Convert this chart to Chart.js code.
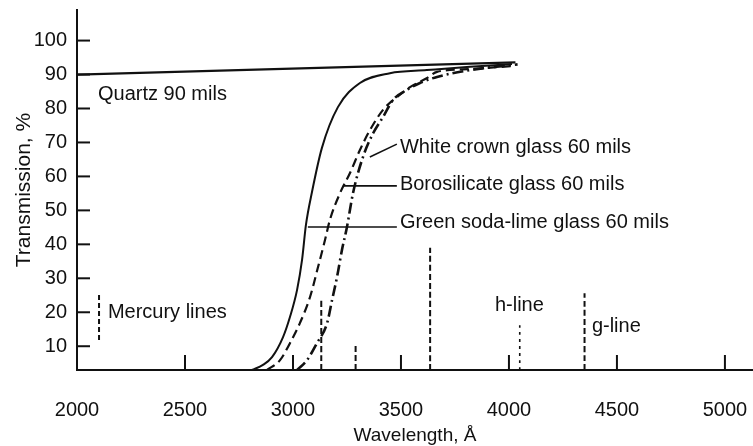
<!DOCTYPE html>
<html>
<head>
<meta charset="utf-8">
<script src="https://cdn.jsdelivr.net/npm/chart.js@4.4.1/dist/chart.umd.min.js"></script>
<style>
  body { margin: 0; background: #fff; }
  canvas { display: block; }
</style>
</head>
<body>
<canvas id="glassChart" width="753" height="446"></canvas>
<script>
// wavelength (angstrom) and transmission (%)
const quartzWl = [2000, 4030];
const quartzT = [90, 93.6];

const greenWl = [2810, 2861, 2903, 2954, 2986, 3019, 3042, 3060, 3088, 3134, 3208, 3310, 3449, 3620, 3820, 4014];
const greenT = [3, 4.5, 6.8, 12.7, 18.6, 26.6, 35.4, 45.7, 55.4, 68.4, 80.4, 87.5, 90.4, 91.3, 92.3, 93.1];

const boroWl = [2880, 2940, 2986, 3032, 3079, 3116, 3148, 3171, 3218, 3264, 3310, 3357, 3417, 3482, 3542, 3621, 3667, 3820, 4030];
const boroT = [3, 5.9, 10.9, 16.8, 24.5, 33.3, 41.2, 47.2, 55.1, 61, 67.8, 73.7, 79.6, 83.4, 86.3, 89, 90.8, 91.6, 92.6];

const crownWl = [3019, 3065, 3111, 3158, 3181, 3204, 3227, 3250, 3278, 3324, 3371, 3417, 3463, 3528, 3588, 3667, 3820, 4040];
const crownT = [3, 5.9, 10.9, 16.8, 23.6, 30.4, 38.4, 45.1, 55.1, 65.7, 72.7, 77.5, 82.5, 85.5, 87.5, 89.3, 91.3, 93];

// mercury lines: position and height of each dashed mark
const mercuryWl = [3131, 3290, 3635, 4050, 4350];
const mercuryTop = [24, 10.4, 39, 16.2, 25.6];

const xTickVals = [2000, 2500, 3000, 3500, 4000, 4500, 5000];
const yTickVals = [10, 20, 30, 40, 50, 60, 70, 80, 90, 100];
const yMin = 3;

// text notes: [text, wavelength, transmission]
const notes = [
  ['Quartz 90 mils', 2097, 84],
  ['Mercury lines', 2143, 19.8],
  ['White crown glass 60 mils', 3495, 68.4],
  ['Borosilicate glass 60 mils', 3495, 57.5],
  ['Green soda-lime glass 60 mils', 3495, 46.3],
  ['h-line', 3935, 22.1],
  ['g-line', 4384, 15.7]
];
// leader lines: [wl1, t1, wl2, t2]
const leaders = [
  [3481, 69.5, 3356, 65.7],
  [3481, 57.2, 3231, 57.2],
  [3481, 45.1, 3069, 45.1]
];
// key mark next to "Mercury lines"
const keyWl = 2102;
const keyT = [11.8, 25.7];

const ink = '#111';
const fontFam = '"Liberation Sans", Arial, sans-serif';

function pts(xs, ys) {
  return xs.map((x, i) => ({x: x, y: ys[i]}));
}

const datasets = [
  {data: pts(quartzWl, quartzT), borderWidth: 2.2, borderDash: []},
  {data: pts(greenWl, greenT), borderWidth: 2, borderDash: []},
  {data: pts(boroWl, boroT), borderWidth: 2.2, borderDash: [9, 5]},
  {data: pts(crownWl, crownT), borderWidth: 2.6, borderDash: [11, 4, 2, 4]}
];
mercuryWl.forEach((wl, i) => {
  datasets.push({
    data: [{x: wl, y: yMin}, {x: wl, y: mercuryTop[i]}],
    borderWidth: i == 3 ? 1.6 : 2,
    borderDash: i == 3 ? [3, 4] : [6, 3]
  });
});
datasets.forEach(d => {
  d.borderColor = ink;
  d.pointRadius = 0;
  d.fill = false;
  d.cubicInterpolationMode = 'monotone';
});

const whiteBg = {
  id: 'whiteBg',
  beforeDraw(chart) {
    const ctx = chart.ctx;
    ctx.save();
    ctx.fillStyle = '#fff';
    ctx.fillRect(0, 0, chart.width, chart.height);
    ctx.restore();
  }
};

const extras = {
  id: 'extras',
  afterDatasetsDraw(chart) {
    const ctx = chart.ctx;
    const xs = chart.scales.x, ys = chart.scales.y;
    const base = ys.getPixelForValue(yMin);
    const left = xs.getPixelForValue(xs.min);
    ctx.save();
    ctx.strokeStyle = ink;
    ctx.lineWidth = 2;
    // inward tick marks
    yTickVals.forEach(v => {
      const py = ys.getPixelForValue(v);
      ctx.beginPath();
      ctx.moveTo(left, py);
      ctx.lineTo(left + 13, py);
      ctx.stroke();
    });
    xTickVals.slice(1).forEach(v => {
      const px = xs.getPixelForValue(v);
      ctx.beginPath();
      ctx.moveTo(px, base);
      ctx.lineTo(px, base - 15);
      ctx.stroke();
    });
    // leaders
    ctx.lineWidth = 1.6;
    leaders.forEach(l => {
      ctx.beginPath();
      ctx.moveTo(xs.getPixelForValue(l[0]), ys.getPixelForValue(l[1]));
      ctx.lineTo(xs.getPixelForValue(l[2]), ys.getPixelForValue(l[3]));
      ctx.stroke();
    });
    // key mark for mercury lines
    ctx.lineWidth = 2;
    ctx.setLineDash([5, 3]);
    ctx.beginPath();
    ctx.moveTo(xs.getPixelForValue(keyWl), ys.getPixelForValue(keyT[0]));
    ctx.lineTo(xs.getPixelForValue(keyWl), ys.getPixelForValue(keyT[1]));
    ctx.stroke();
    ctx.setLineDash([]);
    // notes
    ctx.fillStyle = ink;
    ctx.font = '20px ' + fontFam;
    ctx.textAlign = 'left';
    ctx.textBaseline = 'middle';
    notes.forEach(n => {
      ctx.fillText(n[0], xs.getPixelForValue(n[1]), ys.getPixelForValue(n[2]));
    });
    ctx.restore();
  }
};

function noPad(s) {
  s.paddingLeft = 0;
  s.paddingRight = 0;
  s.paddingTop = 0;
  s.paddingBottom = 0;
}

new Chart(document.getElementById('glassChart'), {
  type: 'line',
  data: {datasets: datasets},
  plugins: [whiteBg, extras],
  options: {
    responsive: false,
    animation: false,
    layout: {padding: {top: 10, right: 0, left: 0, bottom: 0}},
    plugins: {legend: {display: false}, tooltip: {enabled: false}},
    scales: {
      x: {
        type: 'linear',
        min: 2000,
        max: 5130,
        afterBuildTicks: s => { s.ticks = xTickVals.map(v => ({value: v})); },
        afterFit: s => { s.height = 76; noPad(s); },
        grid: {display: false, drawTicks: false},
        border: {color: ink, width: 2},
        ticks: {
          color: ink, padding: 28, maxRotation: 0, autoSkip: false,
          font: {family: fontFam, size: 20},
          callback: v => String(v)
        },
        title: {
          display: true, text: 'Wavelength, Å', color: ink,
          font: {family: fontFam, size: 19}, padding: {top: 0, bottom: -1}
        }
      },
      y: {
        min: yMin,
        max: 109,
        afterBuildTicks: s => { s.ticks = yTickVals.map(v => ({value: v})); },
        afterFit: s => { s.width = 77; noPad(s); },
        grid: {display: false, drawTicks: false},
        border: {color: ink, width: 2},
        ticks: {
          color: ink, padding: 10,
          font: {family: fontFam, size: 20},
          callback: v => String(v)
        },
        title: {
          display: true, text: 'Transmission, %', color: ink,
          font: {family: fontFam, size: 21}, padding: {top: 12, bottom: 0}
        }
      }
    }
  }
});
</script>
</body>
</html>
